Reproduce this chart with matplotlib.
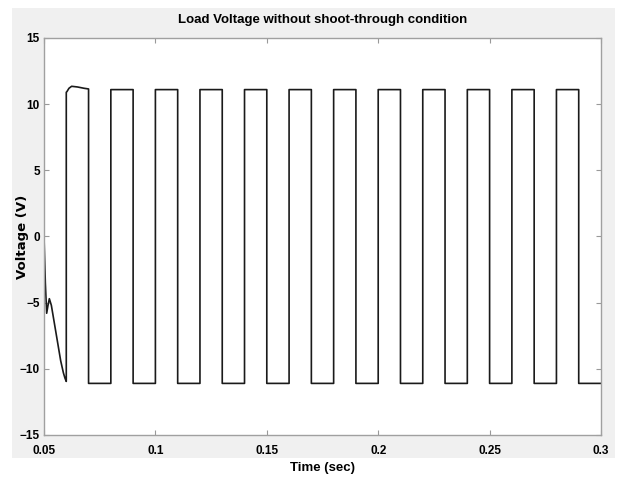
import matplotlib
matplotlib.use('Agg')
import matplotlib.pyplot as plt
from matplotlib.patches import Rectangle
import numpy as np

# start-up transient (before the first pulse)
trans_t = [0.0500, 0.0506, 0.0512, 0.0518, 0.0524, 0.0533, 0.0542,
           0.0553, 0.0564, 0.0575, 0.0587, 0.0594, 0.0600]
trans_v = [0.0, -3.5, -5.8, -5.2, -4.7, -5.2, -6.1,
           -7.2, -8.3, -9.4, -10.3, -10.7, -10.95]

# top of the first pulse (small overshoot)
first_t = [0.0600, 0.0603, 0.0612, 0.0624, 0.0650, 0.0680, 0.0700]
first_v = [10.9, 10.95, 11.2, 11.35, 11.3, 11.2, 11.15]

# square wave edges
rise_t = [0.08, 0.10, 0.12, 0.14, 0.16, 0.18, 0.20, 0.22, 0.24, 0.26, 0.28]
fall_t = [0.07, 0.09, 0.11, 0.13, 0.15, 0.17, 0.19, 0.21, 0.23, 0.25, 0.27, 0.29]
v_high = 11.1
v_low = -11.1
t_end = 0.30

x_ticks = [0.05, 0.1, 0.15, 0.2, 0.25, 0.3]
x_labels = ['0.05', '0.1', '0.15', '0.2', '0.25', '0.3']
y_ticks = [-15, -10, -5, 0, 5, 10, 15]

# assemble the waveform
t = list(trans_t) + list(first_t)
v = list(trans_v) + list(first_v)
t += [fall_t[0]]
v += [v_low]
for r, f in zip(rise_t, fall_t[1:]):
    t += [r, r, f, f]
    v += [v_low, v_high, v_high, v_low]
t += [t_end]
v += [v_low]

narrow = ['Liberation Sans', 'DejaVu Sans']

fig = plt.figure(figsize=(6.19, 4.79), dpi=100)
fig.patch.set_facecolor('white')
fig.patches.append(Rectangle((12 / 619, 1 - 458 / 479), (615 - 12) / 619, (458 - 8) / 479,
                             transform=fig.transFigure, facecolor='#f0f0f0',
                             edgecolor='none', zorder=-10))

ax = fig.add_axes([44 / 619, 1 - 435 / 479, (601 - 44) / 619, (435 - 38) / 479])
ax.set_facecolor('white')
ax.plot(t, v, color='#1a1a1a', linewidth=1.2)

ax.set_xlim(0.05, 0.3)
ax.set_ylim(-15, 15)
ax.set_xticks(x_ticks)
ax.set_xticklabels(x_labels)
ax.set_yticks(y_ticks)
ax.tick_params(direction='in', length=3.6, width=0.8, color='#999999',
               top=True, right=True, pad=3)
ax.tick_params(axis='x', pad=7)
for lab in ax.get_xticklabels() + ax.get_yticklabels():
    lab.set_family(narrow)
    lab.set_fontweight('bold')
    lab.set_fontsize(8.5)
for s in ax.spines.values():
    s.set_color('#a0a0a0')
    s.set_linewidth(1.0)

ax.set_title('Load Voltage without shoot-through condition', family=narrow,
             fontweight='bold', fontsize=9.5, pad=11)
ax.set_xlabel('Time (sec)', family=narrow, fontweight='bold', fontsize=9.5, labelpad=4)
ax.set_ylabel('Voltage (V)', family='DejaVu Sans', fontweight='bold', fontsize=9.5)
ax.yaxis.set_label_coords(-0.027, 0.5)

fig.savefig('out.png', dpi=100)
